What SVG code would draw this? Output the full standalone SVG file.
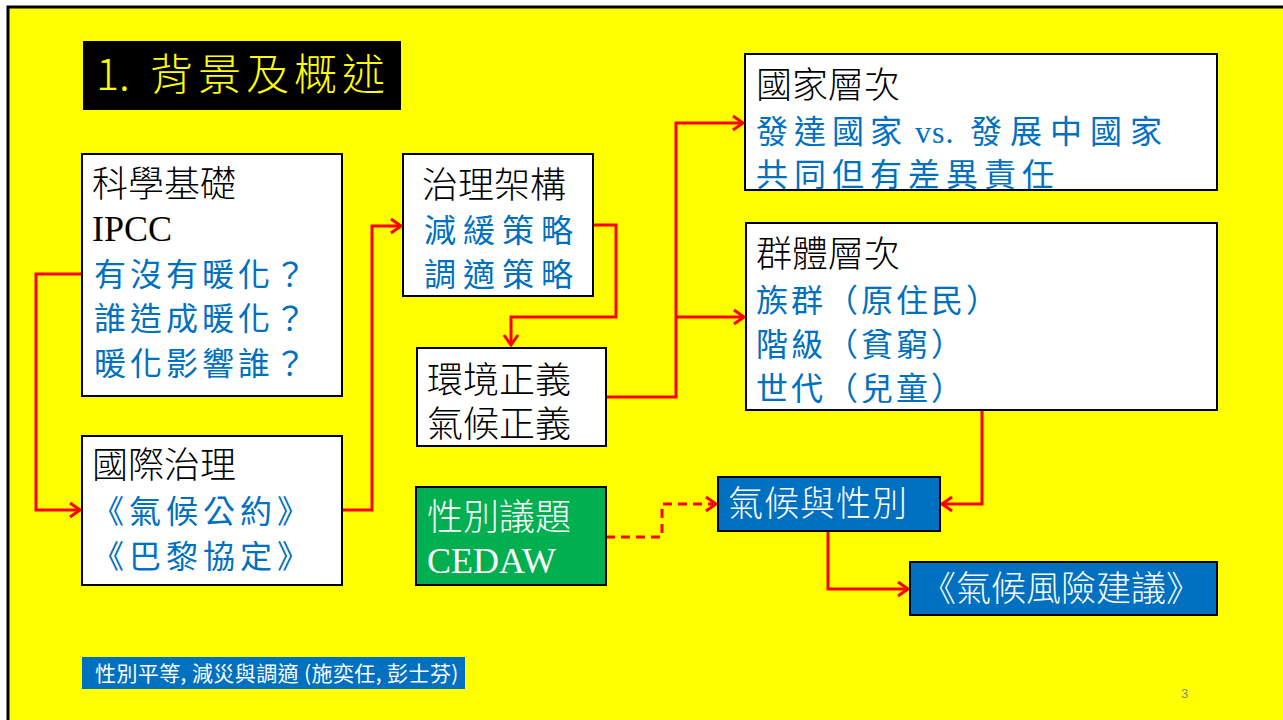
<svg xmlns="http://www.w3.org/2000/svg" width="1283" height="720" viewBox="0 0 1283 720">
<defs>
<style>
.box{fill:#fff;stroke:#000;stroke-width:2}
.bk{font-family:"Liberation Serif","Noto Sans CJK TC",serif;font-size:36px;fill:#000;font-weight:300}
.bl{font-family:"Liberation Serif","Noto Sans CJK TC",serif;font-size:32px;fill:#0070C0;letter-spacing:5px}
.wh{font-family:"Noto Sans CJK TC","Noto Sans",sans-serif;font-size:35px;fill:#fff;font-weight:300}
.ws{font-family:"Liberation Serif","Noto Sans CJK TC",serif;font-size:36px;fill:#fff;font-weight:300}
.con{fill:none;stroke:#FF0000;stroke-width:3}
.dash{stroke-dasharray:9 6}
</style>
<marker id="arr" markerUnits="userSpaceOnUse" markerWidth="20" markerHeight="20" viewBox="-12 -10 14 20" refX="0" refY="0" orient="auto">
<path d="M -10 -7 L 0 0 L -10 7" fill="none" stroke="#FF0000" stroke-width="3"/>
</marker>
</defs>
<rect x="0" y="0" width="1283" height="720" fill="#fff"/>
<rect x="8" y="7" width="1300" height="730" fill="#FFFF00" stroke="#000" stroke-width="3"/>

<g id="title">
<rect x="83" y="41" width="318" height="69" fill="#000"/>
<text x="96" y="90" font-family="Noto Sans CJK TC, sans-serif" font-size="43" fill="#FFFF00" font-weight="300">1.<tspan x="150" letter-spacing="5">背景及概述</tspan></text>
</g>

<g id="connectors">
<polyline class="con" points="82,274 36,274 36,510 80,510" marker-end="url(#arr)"/>
<polyline class="con" points="342,510 372,510 372,226 401,226" marker-end="url(#arr)"/>
<polyline class="con" points="593,225 616,225 616,317 511,317 511,345" marker-end="url(#arr)"/>
<polyline class="con" points="606,397 676,397 676,123 743,123" marker-end="url(#arr)"/>
<polyline class="con" points="676,317 744,317" marker-end="url(#arr)"/>
<polyline class="con" points="982,410 982,504 942,504" marker-end="url(#arr)"/>
<polyline class="con dash" points="606,537 662,537 662,504 716,504" marker-end="url(#arr)"/>
<polyline class="con" points="828,531 828,589 908,589" marker-end="url(#arr)"/>
</g>

<g id="science">
<rect class="box" x="82" y="154" width="260" height="242"/>
<text class="bk" x="92" y="197">科學基礎</text>
<text class="bk" x="92" y="241">IPCC</text>
<text class="bl" x="94" y="286" style="letter-spacing:4px">有沒有暖化？</text>
<text class="bl" x="94" y="330" style="letter-spacing:4px">誰造成暖化？</text>
<text class="bl" x="94" y="375" style="letter-spacing:4px">暖化影響誰？</text>
</g>

<g id="intl">
<rect class="box" x="82" y="436" width="260" height="149"/>
<text class="bk" x="92" y="478">國際治理</text>
<text class="bl" x="92" y="523">《氣候公約》</text>
<text class="bl" x="92" y="568">《巴黎協定》</text>
</g>

<g id="governance">
<rect class="box" x="403" y="154" width="190" height="142"/>
<text class="bk" x="422" y="198">治理架構</text>
<text class="bl" x="424" y="242" style="letter-spacing:7px">減緩策略</text>
<text class="bl" x="424" y="286" style="letter-spacing:7px">調適策略</text>
</g>

<g id="justice">
<rect class="box" x="417" y="348" width="189" height="98"/>
<text class="bk" x="427" y="393">環境正義</text>
<text class="bk" x="427" y="437">氣候正義</text>
</g>

<g id="national">
<rect class="box" x="745" y="54" width="472" height="136"/>
<text class="bk" x="756" y="98">國家層次</text>
<text class="bl" x="756" y="143" style="letter-spacing:6px">發達國家<tspan x="915" style="letter-spacing:1px">vs.</tspan><tspan x="970" style="letter-spacing:8px">發展中國家</tspan></text>
<text class="bl" x="756" y="186" style="letter-spacing:6px">共同但有差異責任</text>
</g>

<g id="group">
<rect class="box" x="746" y="223" width="471" height="187"/>
<text class="bk" x="756" y="267">群體層次</text>
<text class="bl" x="756" y="312" style="letter-spacing:3px">族群（原住民）</text>
<text class="bl" x="756" y="356" style="letter-spacing:3px">階級（貧窮）</text>
<text class="bl" x="756" y="400" style="letter-spacing:3px">世代（兒童）</text>
</g>

<g id="gender">
<rect x="416" y="487" width="190" height="98" fill="#00B050" stroke="#000" stroke-width="2"/>
<text class="ws" x="427" y="530">性別議題</text>
<text class="ws" x="427" y="573">CEDAW</text>
</g>

<g id="climategender">
<rect x="718" y="477" width="222" height="54" fill="#0070C0" stroke="#000" stroke-width="2"/>
<text class="wh" x="728" y="516" style="letter-spacing:1px">氣候與性別</text>
</g>

<g id="risk">
<rect x="910" y="562" width="307" height="53" fill="#0070C0" stroke="#000" stroke-width="2"/>
<text class="wh" x="921" y="601">《氣候風險建議》</text>
</g>

<g id="footer">
<rect x="82" y="657" width="383" height="32" fill="#0070C0"/>
<text x="95" y="681" font-family="Noto Sans CJK TC, sans-serif" font-size="21" fill="#fff" letter-spacing="0.4">性別平等, 減災與調適 (施奕任, 彭士芬)</text>
</g>

<text x="1181" y="698" font-family="Liberation Sans, sans-serif" font-size="13" fill="#888">3</text>
</svg>
